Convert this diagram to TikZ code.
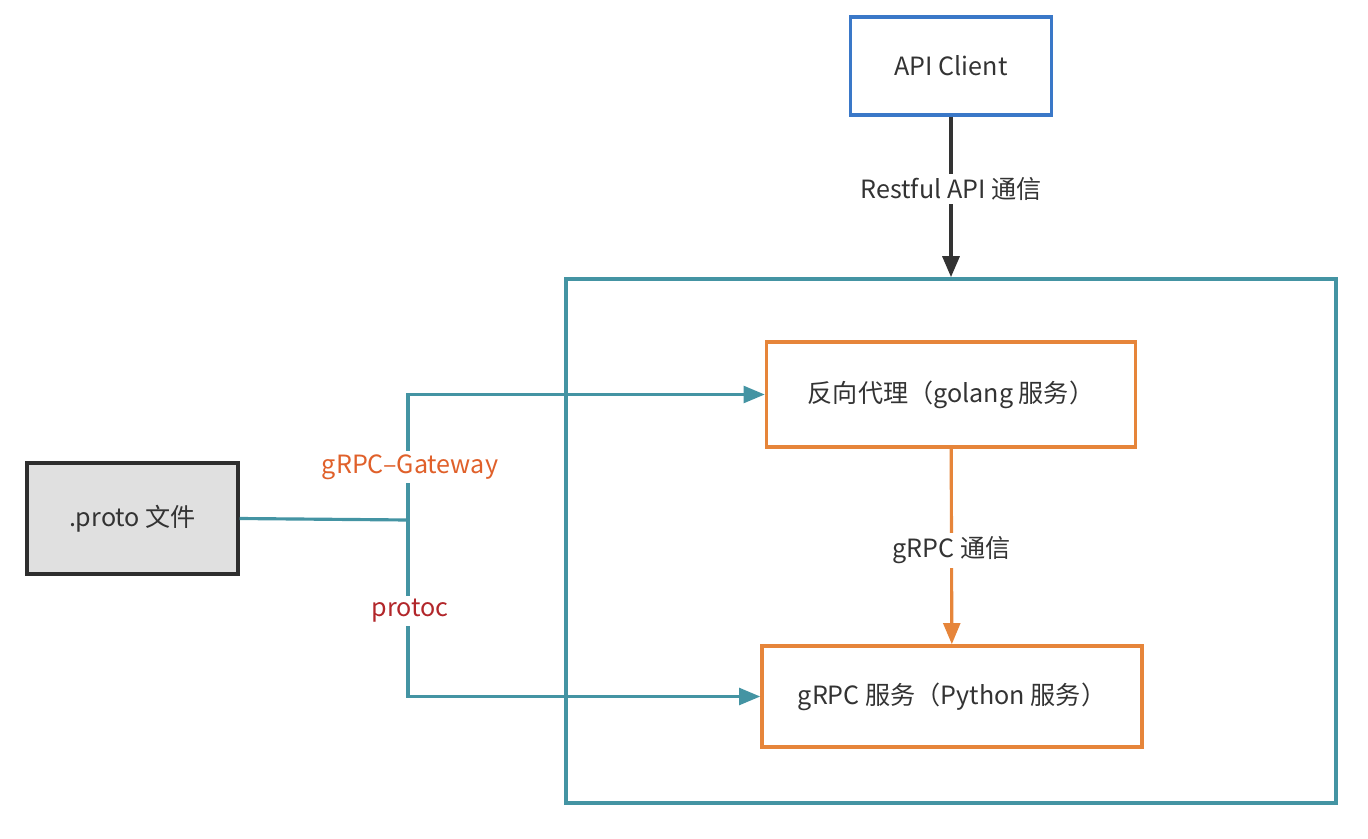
\documentclass[tikz,border=0pt]{standalone}
\usepackage{fontspec}
\setmainfont{Noto Sans CJK SC}
\usetikzlibrary{arrows.meta}
\definecolor{clientblue}{HTML}{3A78C8}
\definecolor{svcteal}{HTML}{4494A3}
\definecolor{svcorange}{HTML}{E6853A}
\definecolor{gwlabel}{HTML}{E0602A}
\definecolor{protolabel}{HTML}{B2262A}
\definecolor{txtgray}{HTML}{333333}
\begin{document}
\begin{tikzpicture}[x=0.02cm,y=-0.02cm,every node/.style={font=\fontsize{14.3pt}{17pt}\selectfont,text=txtgray},
  box/.style={draw,line width=2pt,inner sep=0pt},
  tip/.style={-{Triangle[length=12pt,width=9.5pt]}}]
\useasboundingbox (0,0) rectangle (1368,838);
% boxes
\node[box,draw=svcteal,minimum width=15.4cm,minimum height=10.48cm] (svc) at (951,541) {};
\node[box,draw=clientblue,minimum width=4.02cm,minimum height=1.96cm] (client) at (951,66) {API Client};
\node[box,draw=svcorange,minimum width=7.38cm,minimum height=2.1cm] (proxy) at (951,394.5) {反向代理（golang 服务）};
\node[box,draw=svcorange,minimum width=7.6cm,minimum height=2.02cm] (python) at (952,696.5) {gRPC 服务（Python 服务）};
\node[box,draw=txtgray!90!black,fill=black!12,minimum width=4.22cm,minimum height=2.22cm] (proto) at (132.5,518.5) {.proto 文件};
% connectors
\draw[tip,line width=2.3pt,draw=txtgray] (client) -- (svc.north) node[pos=0.45,fill=white,inner sep=2pt] (rest) {Restful API 通信};
\draw[tip,line width=1.8pt,draw=svcorange] (proxy) -- (python) node[pos=0.52,fill=white,inner sep=2pt] (grpc) {gRPC 通信};
\coordinate (j) at (408,520);
\draw[line width=1.8pt,draw=svcteal] (proto.east) -- (j);
\draw[tip,line width=1.8pt,draw=svcteal] (j) |- (proxy.west);
\draw[tip,line width=1.8pt,draw=svcteal] (j) |- (python.west);
\node[fill=white,inner sep=2pt,text=gwlabel] (gw) at (410,467) {gRPC–Gateway};
\node[fill=white,inner sep=2pt,text=protolabel] (protoc) at (410,611) {protoc};
\end{tikzpicture}
\end{document}
